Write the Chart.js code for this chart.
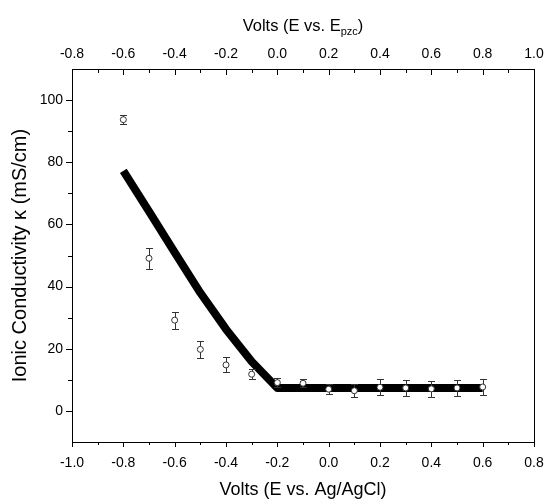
<!DOCTYPE html>
<html lang="en">
<head>
    <meta charset="UTF-8">
    <title>Ionic Conductivity vs. Potential</title>
    <script src="https://cdn.jsdelivr.net/npm/chart.js"></script>
    <style>
        body {
            margin: 0;
            background: #fff;
        }
        .wrap {
            position: relative;
            width: 546px;
            height: 499px;
        }
    </style>
</head>
<body>
    <div class="wrap"><canvas id="kappaChart"></canvas></div>

    <script>
        // Potentials (V vs. Ag/AgCl) for the measurements and the model curve
        const potentials = [-0.8, -0.7, -0.6, -0.5, -0.4, -0.3, -0.2, -0.1, 0.0, 0.1, 0.2, 0.3, 0.4, 0.5, 0.6];
        // Measured ionic conductivity (mS/cm) and its error
        const measured = [93.7, 49.1, 29.2, 19.8, 14.8, 11.8, 9.1, 8.9, 7.0, 6.5, 7.6, 7.4, 7.1, 7.4, 7.7];
        const measuredErr = [1.5, 3.3, 2.7, 2.7, 2.4, 1.6, 1.4, 1.3, 1.5, 2.0, 2.6, 2.5, 2.6, 2.7, 2.7];
        // Model conductivity (mS/cm)
        const model = [77.2, 64.2, 51.0, 38.0, 26.3, 15.9, 7.4, 7.4, 7.4, 7.4, 7.4, 7.4, 7.4, 7.4, 7.4];

        // Major tick values
        const bottomTicks = [-1.0, -0.8, -0.6, -0.4, -0.2, 0.0, 0.2, 0.4, 0.6, 0.8];
        const topTicks = [-0.8, -0.6, -0.4, -0.2, 0.0, 0.2, 0.4, 0.6, 0.8, 1.0];
        const yTicks = [0, 20, 40, 60, 80, 100];

        const FONT = "'Liberation Sans', Arial, sans-serif";
        Chart.defaults.font.family = FONT;
        Chart.defaults.color = '#000';

        const midpoints = arr => arr.slice(1).map((v, i) => (v + arr[i]) / 2);
        const setTicks = list => scale => { scale.ticks = list.map(v => ({ value: v })); };

        // Vertical error bars, drawn under the circles of the measured set
        const errorBars = {
            id: 'errorBars',
            beforeDatasetDraw(chart, args) {
                if (args.index !== 0) return;
                const { ctx } = chart;
                const xs = chart.scales.x, ys = chart.scales.y;
                ctx.save();
                ctx.strokeStyle = '#333';
                ctx.lineWidth = 1;
                ctx.beginPath();
                potentials.forEach((p, i) => {
                    const px = Math.round(xs.getPixelForValue(p)) + 0.5;
                    const top = Math.round(ys.getPixelForValue(measured[i] + measuredErr[i])) + 0.5;
                    const bot = Math.round(ys.getPixelForValue(measured[i] - measuredErr[i])) + 0.5;
                    ctx.moveTo(px, top); ctx.lineTo(px, bot);
                    ctx.moveTo(px - 3.5, top); ctx.lineTo(px + 3.5, top);
                    ctx.moveTo(px - 3.5, bot); ctx.lineTo(px + 3.5, bot);
                });
                ctx.stroke();
                ctx.restore();
            }
        };

        // Major/minor tick marks (top ticks point inward) and the top axis title
        const axisDecor = {
            id: 'axisDecor',
            afterDraw(chart) {
                const { ctx, chartArea } = chart;
                const { x, x2, y } = chart.scales;
                ctx.save();
                ctx.strokeStyle = '#000';
                ctx.lineWidth = 1;
                ctx.beginPath();
                const hTicks = (scale, values, edge, dir, len) => values.forEach(v => {
                    const px = Math.round(scale.getPixelForValue(v)) + 0.5;
                    ctx.moveTo(px, edge); ctx.lineTo(px, edge + dir * len);
                });
                const vTicks = (scale, values, edge, dir, len) => values.forEach(v => {
                    const py = Math.round(scale.getPixelForValue(v)) + 0.5;
                    ctx.moveTo(edge, py); ctx.lineTo(edge + dir * len, py);
                });
                hTicks(x, bottomTicks, chartArea.bottom, 1, 5);
                hTicks(x, midpoints(bottomTicks), chartArea.bottom, 1, 3);
                hTicks(x2, topTicks, chartArea.top, 1, 6);
                hTicks(x2, midpoints(topTicks), chartArea.top, 1, 4);
                vTicks(y, yTicks, chartArea.left, -1, 6);
                vTicks(y, midpoints(yTicks), chartArea.left, -1, 4);
                ctx.stroke();

                // "Volts (E vs. Epzc)" with subscript
                const main = 'Volts (E vs. E', sub = 'pzc', close = ')';
                const big = '16.5px ' + FONT, small = '11px ' + FONT;
                ctx.fillStyle = '#000';
                ctx.textBaseline = 'alphabetic';
                ctx.textAlign = 'left';
                ctx.font = big;
                const w1 = ctx.measureText(main).width, w3 = ctx.measureText(close).width;
                ctx.font = small;
                const w2 = ctx.measureText(sub).width;
                const tx = (chartArea.left + chartArea.right) / 2 - (w1 + w2 + w3) / 2;
                const base = 31;
                ctx.font = big;
                ctx.fillText(main, tx, base);
                ctx.font = small;
                ctx.fillText(sub, tx + w1, base + 4);
                ctx.font = big;
                ctx.fillText(close, tx + w1 + w2, base);
                ctx.restore();
            }
        };

        const tickFont = { size: 14 };

        new Chart(document.getElementById('kappaChart'), {
            type: 'scatter',
            data: {
                datasets: [{
                    label: 'Measured',
                    data: potentials.map((p, i) => ({ x: p, y: measured[i] })),
                    xAxisID: 'x',
                    yAxisID: 'y',
                    showLine: false,
                    pointStyle: 'circle',
                    pointRadius: 3,
                    pointBorderWidth: 1,
                    pointBackgroundColor: '#fff',
                    pointBorderColor: '#333',
                    order: 0
                }, {
                    label: 'Model',
                    data: potentials.map((p, i) => ({ x: p, y: model[i] })),
                    xAxisID: 'x',
                    yAxisID: 'y',
                    showLine: true,
                    borderColor: '#000',
                    borderWidth: 8,
                    borderJoinStyle: 'round',
                    pointRadius: 0,
                    tension: 0,
                    order: 1
                }]
            },
            options: {
                responsive: true,
                maintainAspectRatio: false,
                animation: false,
                layout: { padding: 0 },
                plugins: {
                    legend: { display: false },
                    tooltip: { enabled: false }
                },
                scales: {
                    x: {
                        type: 'linear',
                        position: 'bottom',
                        min: -1.0,
                        max: 0.8,
                        afterBuildTicks: setTicks(bottomTicks),
                        afterFit: s => { s.height = 57; },
                        ticks: { callback: v => v.toFixed(1), padding: 0, maxRotation: 0, autoSkip: false, font: tickFont },
                        grid: { display: false, drawTicks: true, tickLength: 13 },
                        border: { display: true, color: '#000', width: 1 },
                        title: {
                            display: true,
                            text: 'Volts (E vs. Ag/AgCl)',
                            font: { size: 18, lineHeight: 1.2 },
                            padding: { top: 0, bottom: -1.5 }
                        }
                    },
                    x2: {
                        type: 'linear',
                        position: 'top',
                        min: -0.8,
                        max: 1.0,
                        afterBuildTicks: setTicks(topTicks),
                        afterFit: s => { s.height = 69; },
                        ticks: { callback: v => v.toFixed(1), padding: 0, maxRotation: 0, autoSkip: false, font: tickFont },
                        grid: { display: false, drawTicks: true, tickLength: 6 },
                        border: { display: true, color: '#000', width: 1 }
                    },
                    y: {
                        type: 'linear',
                        position: 'left',
                        min: -10,
                        max: 110,
                        afterBuildTicks: setTicks(yTicks),
                        afterFit: s => { s.width = 72; },
                        ticks: { padding: 0, font: tickFont },
                        grid: { display: false, drawTicks: true, tickLength: 9 },
                        border: { display: true, color: '#000', width: 1 },
                        title: {
                            display: true,
                            text: 'Ionic Conductivity κ (mS/cm)',
                            font: { size: 20, lineHeight: 1.2 },
                            padding: { top: 8, bottom: 0 }
                        }
                    },
                    y2: {
                        type: 'linear',
                        position: 'right',
                        min: -10,
                        max: 110,
                        afterFit: s => { s.width = 12; },
                        ticks: { display: false },
                        grid: { display: false, drawTicks: false },
                        border: { display: true, color: '#000', width: 1 }
                    }
                }
            },
            plugins: [errorBars, axisDecor]
        });
    </script>
</body>
</html>
